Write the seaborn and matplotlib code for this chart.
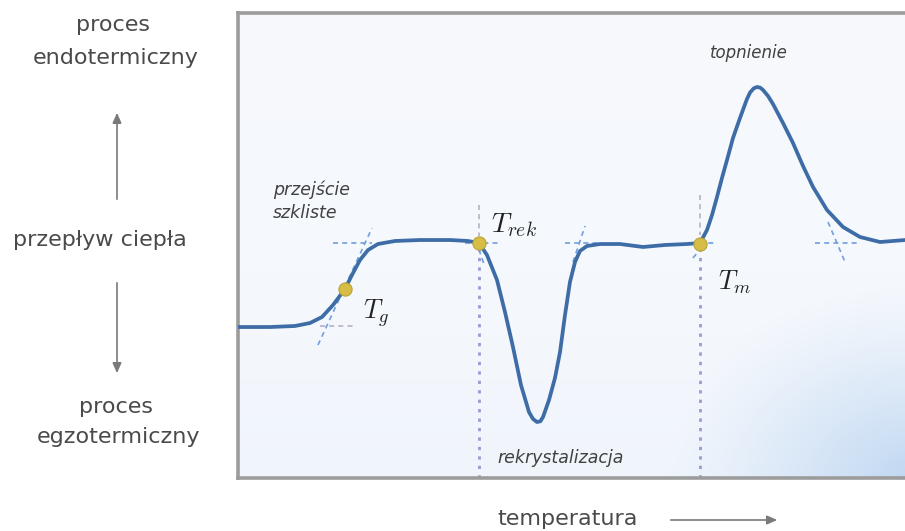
import numpy as np
import pandas as pd
import matplotlib
matplotlib.use("Agg")
import matplotlib.pyplot as plt
from matplotlib.patches import FancyArrowPatch
import seaborn as sns

# DSC trace: temperature (a.u.) vs heat flow (a.u.)
temperature = [0.00, 4.76, 8.48, 10.71, 12.50, 14.14, 15.92, 16.96, 18.15, 19.35,
               20.83, 23.36, 27.08, 31.55, 34.23, 35.86, 37.05, 38.54, 39.73, 40.92,
               42.11, 43.30, 43.90, 44.49, 45.00, 45.39, 46.28, 47.17, 47.92, 48.66,
               49.40, 50.15, 50.89, 51.93, 53.87, 56.85, 60.27, 63.54, 66.82, 68.75,
               69.79, 70.54, 71.28, 72.02, 72.77, 73.66, 74.70, 75.74, 76.20, 76.75,
               77.23, 77.70, 78.13, 78.87, 79.61, 81.10, 82.59, 84.08, 85.57, 87.65,
               90.03, 92.56, 95.54, 99.26, 100.0]
heat_flow = [32.47, 32.47, 32.69, 33.33, 34.62, 37.20, 40.65, 43.66, 46.88, 49.03,
             50.32, 50.97, 51.18, 51.18, 50.97, 50.54, 47.96, 42.58, 35.70, 28.17,
             20.00, 14.19, 12.70, 12.04, 12.20, 13.12, 16.77, 21.51, 27.10, 35.05,
             42.15, 46.45, 48.82, 49.89, 50.32, 50.32, 49.68, 50.11, 50.32, 50.54,
             53.33, 56.56, 60.43, 64.52, 68.39, 73.12, 77.42, 81.51, 82.90, 83.80,
             84.09, 83.95, 83.44, 82.15, 80.43, 76.34, 72.04, 67.10, 62.58, 57.63,
             53.98, 51.83, 50.75, 51.18, 51.18]

# characteristic temperatures
event_labels = [r"$T_g$", r"$T_{rek}$", r"$T_m$"]
event_temp = [15.92, 35.86, 68.75]
event_flow = [40.65, 50.54, 50.32]

# tangent construction lines (x0, y0, x1, y1)
tangent_blue = [
    (11.90, 28.60, 19.94, 53.76),   # glass transition slope
    (14.14, 50.54, 19.94, 50.54),   # upper baseline extension
    (33.78, 50.54, 38.99, 50.54),   # recrystallisation onset
    (35.40, 51.00, 36.60, 46.00),
    (48.66, 50.54, 53.87, 50.54),   # recrystallisation end
    (49.85, 46.45, 51.64, 54.19),
    (67.26, 50.54, 71.28, 50.54),   # melting onset
    (67.71, 47.31, 69.20, 50.00),
    (85.86, 50.54, 92.56, 50.54),   # melting end
    (87.80, 55.05, 90.33, 46.45),
]
tangent_grey = [
    (12.20, 32.69, 17.41, 32.69),   # lower baseline extension
    (35.86, 58.71, 35.86, 52.00),
    (68.75, 60.86, 68.75, 52.30),
]
onset_lines = [35.86, 68.75]

sns.set_theme(style="white")
plt.rcParams["font.family"] = ["DejaVu Sans"]
plt.rcParams["mathtext.fontset"] = "cm"

fig = plt.figure(figsize=(9.05, 5.31), dpi=100)
fig.patch.set_facecolor("white")
ax = fig.add_axes([238 / 905, 53 / 531, 672 / 905, 465 / 531])

# soft panel background, bluish toward the lower right corner
gx, gy = np.meshgrid(np.linspace(0, 1, 300), np.linspace(0, 1, 200))
base = np.array([0.965, 0.976, 0.992])
blue = np.array([0.76, 0.85, 0.95])
d = np.sqrt(((1 - gx) / 0.36) ** 2 + (gy / 0.42) ** 2)
w = np.clip(1 - d, 0, 1) ** 1.2 * 0.9 + (1 - gy) ** 3 * 0.12
w = np.clip(w, 0, 1)
img = base[None, None, :] * (1 - w[..., None]) + blue[None, None, :] * w[..., None]
ax.imshow(img, extent=[0, 1, 0, 1], transform=ax.transAxes, origin="lower",
          aspect="auto", zorder=0, interpolation="bicubic")

df = pd.DataFrame({"temperatura": temperature, "przeplyw": heat_flow})

for x in onset_lines:
    ax.plot([x, x], [0, 49.0], ls=(0, (1.2, 2.2)), color="#9a9ad8", lw=2.0, zorder=2)
for x0, y0, x1, y1 in tangent_blue:
    ax.plot([x0, x1], [y0, y1], ls=(0, (3, 2.5)), color="#6f9fe0", lw=1.2, zorder=2)
for x0, y0, x1, y1 in tangent_grey:
    ax.plot([x0, x1], [y0, y1], ls=(0, (3, 2.5)), color="#b8b0c8", lw=1.2, zorder=2)

sns.lineplot(data=df, x="temperatura", y="przeplyw", sort=False, estimator=None,
             color="#3d6ca6", lw=2.7, ax=ax, zorder=3)
ax.lines[-1].set_solid_joinstyle("round")
ax.lines[-1].set_solid_capstyle("round")

sns.scatterplot(x=event_temp, y=event_flow, s=90, color="#d6bd45",
                edgecolor="#b9a23a", linewidth=0.8, ax=ax, zorder=4)

ax.set_xlim(0, 100)
ax.set_ylim(0, 100)
ax.set_xticks([])
ax.set_yticks([])
ax.set_xlabel("")
ax.set_ylabel("")
for side in ["left", "top", "bottom"]:
    ax.spines[side].set_color("#9c9c9c")
    ax.spines[side].set_linewidth(2.6)
ax.spines["right"].set_visible(False)

# event labels
ax.text(20.6, 35.5, event_labels[0], fontsize=19, color="#222222", ha="center", va="center", zorder=5)
ax.text(37.6, 54.5, event_labels[1], fontsize=20, color="#222222", ha="left", va="center", zorder=5)
ax.text(71.4, 42.0, event_labels[2], fontsize=19, color="#222222", ha="left", va="center", zorder=5)

it = dict(style="italic", color="#404040", zorder=5)
ax.text(5.2, 59.5, "przejście\nszkliste", fontsize=12.5, ha="left", va="center",
        linespacing=1.3, **it)
ax.text(76.0, 91.5, "topnienie", fontsize=12, ha="center", va="center", **it)
ax.text(38.6, 4.3, "rekrystalizacja", fontsize=12.5, ha="left", va="center", **it)

# heat-flow direction labels on the left
txt = dict(color="#4a4a4a", fontsize=16, ha="center", va="center")
fig.text(113 / 905, 1 - 25 / 531, "proces", **txt)
fig.text(116 / 905, 1 - 58 / 531, "endotermiczny", **txt)
fig.text(100 / 905, 1 - 240 / 531, "przepływ ciepła", **txt)
fig.text(116 / 905, 1 - 407 / 531, "proces", **txt)
fig.text(118 / 905, 1 - 437 / 531, "egzotermiczny", **txt)
fig.text(568 / 905, 1 - 519 / 531, "temperatura", **txt)

arrow = dict(arrowstyle="-|>,head_length=0.5,head_width=0.22", color="#7a7a7a",
             lw=1.2, mutation_scale=12, transform=fig.transFigure)
fig.add_artist(FancyArrowPatch((117 / 905, 1 - 202 / 531), (117 / 905, 1 - 110 / 531), **arrow))
fig.add_artist(FancyArrowPatch((117 / 905, 1 - 280 / 531), (117 / 905, 1 - 376 / 531), **arrow))
fig.add_artist(FancyArrowPatch((668 / 905, 1 - 520 / 531), (780 / 905, 1 - 520 / 531), **arrow))

fig.savefig("out.png", dpi=100, facecolor="white")
